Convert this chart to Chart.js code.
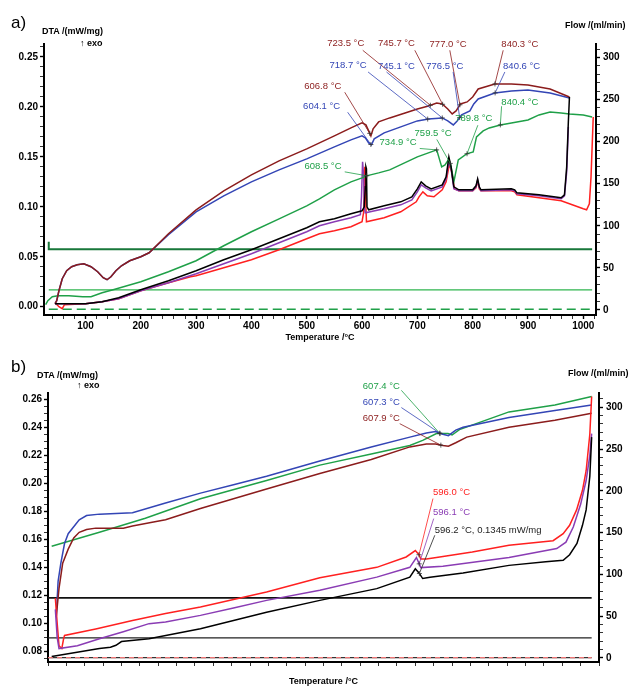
<!DOCTYPE html>
<html>
<head>
<meta charset="utf-8">
<script src="https://cdn.jsdelivr.net/npm/chart.js@4.4.1/dist/chart.umd.min.js"></script>
<style>
  body { margin: 0; background: #fff; font-family: "Liberation Sans", Arial, sans-serif; }
  #page { position: relative; width: 630px; height: 688px; overflow: hidden; background: #fff; }
  canvas { position: absolute; left: 0; }
  .lbl { position: absolute; font-weight: bold; font-size: 9px; color: #000; white-space: nowrap; line-height: 1; }
  .panel { position: absolute; font-size: 17px; color: #000; line-height: 1; }
</style>
</head>
<body>
<div id="page">
  <canvas id="chartA" width="630" height="345" style="top:0"></canvas>
  <canvas id="chartB" width="630" height="348" style="top:340px"></canvas>

  <div class="panel" style="left:11px; top:14px">a)</div>
  <div class="lbl" style="left:42px; top:27px">DTA /(mW/mg)</div>
  <div class="lbl" style="left:80px; top:39px">↑ exo</div>
  <div class="lbl" style="left:565px; top:21px">Flow /(ml/min)</div>

  <div class="panel" style="left:11px; top:358px">b)</div>
  <div class="lbl" style="left:37px; top:371px">DTA /(mW/mg)</div>
  <div class="lbl" style="left:77px; top:381px">↑ exo</div>
  <div class="lbl" style="left:568px; top:369px">Flow /(ml/min)</div>
</div>

<script>
// ---- panel a: DTA curves (temperature °C / mW/mg) ----
const aMaroonT = [45,48,52,58,66,75,85,97,110,122,132,139,146,155,165,180,200,215,250,300,350,400,450,500,550,580,600,607,612,616,620,630,650,700,720,735,745,755,763,770,778,790,800,810,840,870,900,940,975];
const aMaroonV = [0.003,0.006,0.016,0.028,0.036,0.040,0.042,0.043,0.040,0.035,0.029,0.027,0.030,0.036,0.041,0.046,0.050,0.054,0.073,0.097,0.116,0.132,0.146,0.158,0.171,0.179,0.184,0.182,0.176,0.171,0.178,0.185,0.189,0.198,0.201,0.204,0.203,0.198,0.193,0.196,0.203,0.205,0.210,0.218,0.223,0.223,0.222,0.218,0.210];

const aBlueT = [45,48,52,58,66,75,85,97,110,122,132,139,146,155,165,180,200,215,250,300,350,400,450,500,550,580,600,606,612,617,622,640,670,700,720,745,755,765,772,780,795,802,810,840,870,900,940,975];
const aBlueV = [0.003,0.006,0.016,0.028,0.036,0.040,0.042,0.043,0.040,0.035,0.029,0.027,0.030,0.036,0.041,0.046,0.050,0.054,0.072,0.095,0.111,0.125,0.137,0.148,0.160,0.167,0.171,0.169,0.164,0.162,0.168,0.174,0.180,0.186,0.188,0.189,0.186,0.182,0.186,0.192,0.196,0.203,0.208,0.214,0.216,0.217,0.214,0.209];

const aGreenT = [28,32,40,50,70,95,110,130,150,200,250,300,350,400,450,500,523,550,580,600,608,630,650,700,720,735,744,750,756,760,766,774,789,801,807,819,830,850,870,900,920,940,960,975,1000,1016];
const aGreenV = [0.002,0.006,0.010,0.011,0.011,0.010,0.010,0.014,0.017,0.025,0.035,0.046,0.061,0.075,0.088,0.101,0.108,0.117,0.125,0.129,0.131,0.134,0.137,0.150,0.154,0.157,0.140,0.142,0.147,0.143,0.125,0.147,0.153,0.155,0.170,0.176,0.179,0.182,0.184,0.187,0.192,0.195,0.194,0.193,0.192,0.190];

const aBlackT = [45,60,100,130,160,200,250,300,350,400,450,500,523,550,580,600,604,606,607,608,609,612,640,670,690,700,707,715,725,745,752,757,761,766,775,800,806,809,812,815,870,876,880,920,960,966,970,973,975];
const aBlackV = [0.003,0.003,0.003,0.005,0.009,0.017,0.026,0.036,0.047,0.057,0.068,0.079,0.085,0.088,0.093,0.096,0.100,0.120,0.140,0.138,0.100,0.097,0.101,0.105,0.110,0.118,0.125,0.121,0.118,0.122,0.130,0.150,0.140,0.120,0.117,0.117,0.121,0.128,0.120,0.117,0.118,0.117,0.114,0.112,0.109,0.112,0.140,0.185,0.210];

const aPurpleT = [45,60,100,130,160,200,250,300,350,400,450,500,523,550,580,597,599,601,603,604,606,640,670,690,700,707,715,725,745,752,757,761,766,775,800,806,809,812,815,870,876,880,920,960,966,970,973];
const aPurpleV = [0.003,0.003,0.003,0.005,0.008,0.016,0.024,0.033,0.043,0.053,0.064,0.075,0.081,0.085,0.089,0.092,0.110,0.145,0.130,0.100,0.094,0.098,0.102,0.107,0.115,0.122,0.119,0.116,0.120,0.128,0.146,0.138,0.118,0.116,0.116,0.120,0.127,0.119,0.116,0.117,0.116,0.113,0.111,0.108,0.111,0.135,0.180];

const aRedT = [45,52,58,62,100,130,160,200,250,290,300,350,400,450,500,523,550,580,600,603,605,606,607,608,640,670,698,703,710,718,730,745,752,758,762,767,775,800,806,809,812,815,870,876,880,920,960,980,1000,1006,1011,1014,1016,1018];
const aRedV = [0.004,0.000,-0.002,0.002,0.003,0.005,0.008,0.016,0.024,0.030,0.031,0.039,0.047,0.057,0.068,0.073,0.076,0.080,0.085,0.095,0.140,0.130,0.100,0.085,0.089,0.095,0.105,0.110,0.115,0.111,0.110,0.117,0.125,0.143,0.135,0.118,0.116,0.116,0.119,0.126,0.118,0.116,0.116,0.115,0.112,0.109,0.106,0.102,0.098,0.097,0.103,0.130,0.160,0.190];

// panel a: gas flow (ml/min)
const aFlowDarkT = [33.6, 33.6, 1016];
const aFlowDarkV = [81, 72.2, 72.2];
const aFlowT = [33.6, 1016];
const aFlowLightV = [23.8, 23.8];
const aFlowZeroV = [0.8, 0.8];

// ---- panel b ----
const bBlueT = [398.5,399.5,401,403,405,408,411,415,422,440,458,477,495,513,542,570,591,600,605,609,612,616,620,645,670,690];
const bBlueV = [0.105,0.130,0.143,0.157,0.164,0.169,0.174,0.177,0.178,0.179,0.186,0.193,0.199,0.205,0.216,0.226,0.233,0.236,0.237,0.235,0.234,0.238,0.240,0.247,0.252,0.256];

const bMaroonT = [398.5,400,402,405,408,411,415,420,428,435,440,450,458,477,495,513,542,570,591,600,605,609,612,616,622,645,670,690];
const bMaroonV = [0.105,0.125,0.143,0.153,0.161,0.165,0.167,0.168,0.168,0.168,0.1695,0.172,0.174,0.182,0.189,0.196,0.207,0.217,0.226,0.228,0.228,0.227,0.2265,0.229,0.233,0.240,0.245,0.250];

const bGreenT = [396,422,447,477,513,542,570,591,598,605.5,611.8,614,618,645,670,690];
const bGreenV = [0.155,0.165,0.175,0.189,0.202,0.213,0.221,0.227,0.2307,0.2355,0.2355,0.2345,0.2384,0.251,0.256,0.262];

const bRedT = [398,399,400,401.5,402.5,403,420,440,458,477,495,513,542,573,589,594,596,597,600,605.5,625,645,669,674.5,678,681.8,685,687,689,690];
const bRedV = [0.118,0.100,0.084,0.082,0.089,0.0914,0.096,0.102,0.107,0.1117,0.117,0.1224,0.1326,0.140,0.1474,0.152,0.149,0.146,0.146,0.147,0.151,0.1557,0.159,0.164,0.170,0.181,0.195,0.209,0.235,0.262];

const bPurpleT = [398,399,400,410,422,435,449,458,477,495,513,542,573,591,594.6,597,609,645,671,676,680,684,687,689,690];
const bPurpleV = [0.110,0.090,0.082,0.084,0.089,0.094,0.0998,0.101,0.1057,0.111,0.1164,0.1236,0.133,0.140,0.147,0.1398,0.1407,0.147,0.1534,0.158,0.1688,0.185,0.202,0.220,0.2355];

const bBlackT = [396,422,428,431,434,449,477,495,513,542,573,591,594,596,598,602,620,645,665,674.5,678,682,685,687,689,690];
const bBlackV = [0.0764,0.082,0.083,0.0843,0.087,0.089,0.0962,0.102,0.108,0.1164,0.1248,0.133,0.139,0.136,0.132,0.133,0.136,0.1414,0.144,0.145,0.149,0.157,0.170,0.181,0.205,0.233];

const bFlowT = [394, 690];
const bFlowHighV = [72, 72];
const bFlowMidV = [24, 24];
const bFlowZeroV = [0.5, 0.5];

// colours
const MAROON = '#8b1c1c', BLUE = '#3345b5', GREEN = '#1fa048', BLACK = '#000000',
      PURPLE = '#8a3cb4', RED = '#ff2020', DKGREEN = '#18773a', LTGREEN = '#2fb54f';

const FONT = '"Liberation Sans", Arial, sans-serif';
Chart.defaults.font.family = FONT;

function pts(xs, ys) { return xs.map((x, i) => ({ x: x, y: ys[i] })); }

function interp(xs, ys, t) {
    for (let i = 1; i < xs.length; i++) {
        if (t <= xs[i]) {
            const f = (t - xs[i - 1]) / (xs[i] - xs[i - 1]);
            return ys[i - 1] + f * (ys[i] - ys[i - 1]);
        }
    }
    return ys[ys.length - 1];
}

function curve(xs, ys, color, extra) {
    return Object.assign({
        data: pts(xs, ys), borderColor: color, borderWidth: 1.5,
        showLine: true, pointRadius: 0, fill: false, tension: 0, yAxisID: 'y'
    }, extra || {});
}

function majorLabel(step, digits) {
    return function (v) {
        const k = v / step;
        return Math.abs(k - Math.round(k)) < 1e-6 ? v.toFixed(digits) : '';
    };
}
function isMajor(v, step) { const k = v / step; return Math.abs(k - Math.round(k)) < 1e-6; }

// leader lines with temperature labels
function calloutPlugin(items) {
    return {
        id: 'callouts',
        afterDatasetsDraw(chart) {
            const ctx = chart.ctx, xs = chart.scales.x, ys = chart.scales.y;
            ctx.save();
            ctx.font = '9.5px ' + FONT;
            ctx.textBaseline = 'middle';
            ctx.lineWidth = 0.8;
            items.forEach(it => {
                const px = xs.getPixelForValue(it.at);
                const py = ys.getPixelForValue(interp(it.xs, it.ys, it.at));
                const sx = xs.getPixelForValue(it.from[0]), sy = ys.getPixelForValue(it.from[1]);
                ctx.strokeStyle = it.color;
                ctx.beginPath(); ctx.moveTo(sx, sy); ctx.lineTo(px, py); ctx.stroke();
                ctx.strokeStyle = '#333';
                ctx.beginPath();
                ctx.moveTo(px - 2.5, py); ctx.lineTo(px + 2.5, py);
                ctx.moveTo(px, py - 2.5); ctx.lineTo(px, py + 2.5);
                ctx.stroke();
                ctx.fillStyle = it.color;
                ctx.textAlign = it.align || 'center';
                ctx.fillText(it.text, xs.getPixelForValue(it.label[0]), ys.getPixelForValue(it.label[1]));
            });
            ctx.restore();
        }
    };
}

function axis(opts) {
    const step = opts.step, major = opts.major;
    return {
        type: 'linear', position: opts.position, min: opts.min, max: opts.max,
        border: { color: '#000', width: 2 },
        grid: {
            drawOnChartArea: false, drawTicks: true, tickLength: 4, color: '#000',
            tickColor: '#000',
            tickWidth: c => (c.tick && isMajor(c.tick.value, major)) ? 1.4 : 0.8
        },
        ticks: {
            stepSize: step, autoSkip: false, maxRotation: 0, includeBounds: false,
            padding: opts.pad, color: '#000', font: { size: 10, weight: 'bold' },
            callback: majorLabel(major, opts.digits)
        },
        title: opts.title ? {
            display: true, text: opts.title, color: '#000',
            font: { size: 9, weight: 'bold' }, padding: { top: 0, bottom: opts.titlePad }
        } : { display: false },
        afterFit: opts.fit
    };
}

function makePanel(id, datasets, scales, padTop, callouts) {
    return new Chart(document.getElementById(id), {
        type: 'scatter',
        data: { datasets: datasets },
        options: {
            responsive: false, animation: false, devicePixelRatio: 1,
            layout: { padding: { top: padTop, left: 0, right: 0, bottom: 0 } },
            plugins: { legend: { display: false }, tooltip: { enabled: false } },
            scales: scales
        },
        plugins: [calloutPlugin(callouts)]
    });
}

// ---- panel a ----
makePanel('chartA', [
    curve(aBlackT, aBlackV, BLACK),
    curve(aMaroonT, aMaroonV, MAROON),
    curve(aBlueT, aBlueV, BLUE),
    curve(aGreenT, aGreenV, GREEN),
    curve(aPurpleT, aPurpleV, PURPLE),
    curve(aRedT, aRedV, RED),
    curve(aFlowDarkT, aFlowDarkV, DKGREEN, { yAxisID: 'yR', borderWidth: 2 }),
    curve(aFlowT, aFlowLightV, LTGREEN, { yAxisID: 'yR', borderWidth: 1.4 }),
    curve(aFlowT, aFlowZeroV, GREEN, { yAxisID: 'yR', borderWidth: 1.4, borderDash: [9, 5] })
], {
    x: axis({ position: 'bottom', min: 25, max: 1023, step: 20, major: 100, digits: 0, pad: 1,
              title: 'Temperature /°C', titlePad: 2, fit: s => { s.height = 30; } }),
    y: axis({ position: 'left', min: -0.0083, max: 0.263, step: 0.01, major: 0.05, digits: 2, pad: 2,
              fit: s => { s.width = 44; } }),
    yR: axis({ position: 'right', min: -6, max: 316, step: 10, major: 50, digits: 0, pad: 3,
               fit: s => { s.width = 34; } })
}, 44, [
    { text: '606.8 °C', color: MAROON, xs: aMaroonT, ys: aMaroonV, at: 614, label: [529, 0.2207], from: [568.7, 0.2147] },
    { text: '604.1 °C', color: BLUE, xs: aBlueT, ys: aBlueV, at: 616, label: [527, 0.2007], from: [574, 0.1947] },
    { text: '723.5 °C', color: MAROON, xs: aMaroonT, ys: aMaroonV, at: 723.5, label: [570.5, 0.2637], from: [601.3, 0.2567] },
    { text: '745.7 °C', color: MAROON, xs: aMaroonT, ys: aMaroonV, at: 745.7, label: [662.2, 0.2634], from: [695.4, 0.2567] },
    { text: '777.0 °C', color: MAROON, xs: aMaroonT, ys: aMaroonV, at: 777, label: [755.6, 0.2627], from: [758.7, 0.2567] },
    { text: '840.3 °C', color: MAROON, xs: aMaroonT, ys: aMaroonV, at: 840.3, label: [885.4, 0.2627], from: [855.2, 0.2567] },
    { text: '718.7 °C', color: BLUE, xs: aBlueT, ys: aBlueV, at: 718.7, label: [574.7, 0.2417], from: [610.9, 0.235] },
    { text: '745.1 °C', color: BLUE, xs: aBlueT, ys: aBlueV, at: 745.1, label: [662.2, 0.2407], from: [644.2, 0.235] },
    { text: '776.5 °C', color: BLUE, xs: aBlueT, ys: aBlueV, at: 776.5, label: [749.7, 0.2407], from: [764.7, 0.235] },
    { text: '840.6 °C', color: BLUE, xs: aBlueT, ys: aBlueV, at: 840.6, label: [888.5, 0.2407], from: [858.2, 0.235] },
    { text: '840.4 °C', color: GREEN, xs: aGreenT, ys: aGreenV, at: 850, label: [885.4, 0.205], from: [852.3, 0.2007] },
    { text: '789.8 °C', color: GREEN, xs: aGreenT, ys: aGreenV, at: 789.8, label: [802.1, 0.1884], from: [809.4, 0.1817] },
    { text: '759.5 °C', color: GREEN, xs: aGreenT, ys: aGreenV, at: 759.5, label: [728.5, 0.1734], from: [735.2, 0.1674] },
    { text: '734.9 °C', color: GREEN, xs: aGreenT, ys: aGreenV, at: 734.9, label: [665.2, 0.165], from: [704.4, 0.1584] },
    { text: '608.5 °C', color: GREEN, xs: aGreenT, ys: aGreenV, at: 608.5, label: [529.4, 0.140], from: [568.7, 0.135] }
]);

// ---- panel b ----
makePanel('chartB', [
    curve(bBlackT, bBlackV, BLACK),
    curve(bPurpleT, bPurpleV, PURPLE),
    curve(bRedT, bRedV, RED),
    curve(bMaroonT, bMaroonV, MAROON),
    curve(bBlueT, bBlueV, BLUE),
    curve(bGreenT, bGreenV, GREEN),
    curve(bFlowT, bFlowHighV, '#111', { yAxisID: 'yR', borderWidth: 1.8 }),
    curve(bFlowT, bFlowMidV, '#222', { yAxisID: 'yR', borderWidth: 1.3 }),
    curve(bFlowT, bFlowZeroV, '#e77', { yAxisID: 'yR', borderWidth: 1.2, borderDash: [5, 4] }),
    curve(bFlowT, bFlowZeroV, '#333', { yAxisID: 'yR', borderWidth: 1.2 })
], {
    x: axis({ position: 'bottom', min: 394, max: 694, step: 10, major: 50, digits: 0, pad: 0,
              title: 'Temperature /°C', titlePad: 1, fit: s => { s.height = 26; } }),
    y: axis({ position: 'left', min: 0.0724, max: 0.2645, step: 0.005, major: 0.02, digits: 2, pad: 2,
              fit: s => { s.width = 48; } }),
    yR: axis({ position: 'right', min: -4.8, max: 317, step: 10, major: 50, digits: 0, pad: 3,
               fit: s => { s.width = 31; } })
}, 53, [
    { text: '607.4 °C', color: GREEN, xs: bGreenT, ys: bGreenV, at: 607.4, label: [575.5, 0.2693], from: [586.4, 0.2664] },
    { text: '607.3 °C', color: BLUE, xs: bBlueT, ys: bBlueV, at: 607.3, label: [575.5, 0.2576], from: [586.4, 0.2541] },
    { text: '607.9 °C', color: MAROON, xs: bMaroonT, ys: bMaroonV, at: 607.9, label: [575.5, 0.2462], from: [585.5, 0.2426] },
    { text: '596.0 °C', color: RED, xs: bRedT, ys: bRedV, at: 596, label: [613.7, 0.1934], from: [603.6, 0.1891] },
    { text: '596.1 °C', color: PURPLE, xs: bPurpleT, ys: bPurpleV, at: 596.1, label: [613.7, 0.1791], from: [604, 0.1748] },
    { text: '596.2 °C, 0.1345 mW/mg', color: '#222', xs: bBlackT, ys: bBlackV, at: 596.2, label: [604.6, 0.1664], from: [604.6, 0.1629], align: 'left' }
]);
</script>
</body>
</html>
